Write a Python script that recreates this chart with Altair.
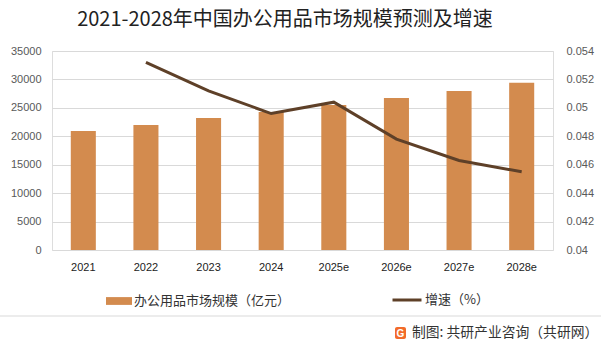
import altair as alt
import pandas as pd

years = ["2021", "2022", "2023", "2024", "2025e", "2026e", "2027e", "2028e"]
market_size = [20950, 21990, 23220, 24250, 25500, 26730, 27960, 29400]
growth_years = ["2022", "2023", "2024", "2025e", "2026e", "2027e", "2028e"]
growth_rate = [0.0532, 0.0512, 0.0496, 0.0504, 0.0478, 0.0463, 0.0455]
left_ticks = [0, 5000, 10000, 15000, 20000, 25000, 30000, 35000]
right_ticks = [0.04, 0.042, 0.044, 0.046, 0.048, 0.05, 0.052, 0.054]

bar_name = "办公用品市场规模（亿元）"
line_name = "增速（%）"
title_text = "2021-2028年中国办公用品市场规模预测及增速"
footer_text = "制图: 共研产业咨询（共研网）"

FONT = "Noto Sans CJK SC"
NUMFONT = "Liberation Sans"
BAR_COLOR = "#D38B4E"
LINE_COLOR = "#5E4028"

bars_df = pd.DataFrame({"year": years, "value": market_size, "series": bar_name})
line_df = pd.DataFrame({"year": growth_years, "rate": growth_rate, "series": line_name})
one = pd.DataFrame({"t": [title_text], "f": [footer_text]})

xscale = alt.Scale(domain=years, paddingInner=0.6, paddingOuter=0.3)

bars = alt.Chart(bars_df).mark_bar(color=BAR_COLOR).encode(
    x=alt.X("year:N", scale=xscale, sort=years,
            axis=alt.Axis(title=None, labelAngle=0, ticks=False, domain=False,
                          labelPadding=11, labelFont=NUMFONT, labelFontSize=11,
                          labelColor="#222222")),
    y=alt.Y("value:Q", scale=alt.Scale(domain=[0, 35000], nice=False, zero=True),
            axis=alt.Axis(title=None, values=left_ticks, format="d", ticks=False,
                          domain=False, labelPadding=11, labelFont=NUMFONT,
                          labelFontSize=11, labelColor="#595959",
                          gridColor="#D9D9D9", gridWidth=1)),
    fill=alt.Fill("series:N", scale=alt.Scale(domain=[bar_name], range=[BAR_COLOR]),
                  legend=alt.Legend(title=None, orient="none", legendX=54, legendY=237,
                                    symbolType="M-1,-0.3H1V0.3H-1Z", symbolSize=676,
                                    symbolStrokeWidth=0, labelFont=FONT,
                                    labelFontSize=13, labelColor="#333333",
                                    labelOffset=2)),
)

line = alt.Chart(line_df).mark_line(strokeWidth=3).encode(
    x=alt.X("year:N", scale=xscale, sort=years),
    y=alt.Y("rate:Q", scale=alt.Scale(domain=[0.04, 0.054], nice=False, zero=False),
            axis=alt.Axis(title=None, orient="right", values=right_ticks, format="~g",
                          ticks=False, domain=False, grid=False, labelPadding=13,
                          labelFont=NUMFONT, labelFontSize=11, labelColor="#595959")),
    stroke=alt.Stroke("series:N", scale=alt.Scale(domain=[line_name], range=[LINE_COLOR]),
                      legend=alt.Legend(title=None, orient="none", legendX=339, legendY=233,
                                        symbolType="stroke", symbolSize=841,
                                        symbolStrokeWidth=3, labelFont=FONT,
                                        labelFontSize=13, labelColor="#333333",
                                        labelOffset=2)),
)

title = alt.Chart(one).mark_text(font=FONT, fontSize=20, color="#222222",
                                 align="center", baseline="middle").encode(
    text="t:N", x=alt.value(233), y=alt.value(-31))

sep = alt.Chart(one).mark_rule(color="#D9D9D9", strokeWidth=1).encode(
    x=alt.value(-52), x2=alt.value(549), y=alt.value(265))

logo = alt.Chart(one).mark_rect(color="#F26B2A", cornerRadius=2).encode(
    x=alt.value(343), x2=alt.value(354), y=alt.value(276), y2=alt.value(288))
logo_g = alt.Chart(one).mark_text(text="G", font=NUMFONT, fontSize=10, fontWeight="bold",
                                  color="white", align="center", baseline="middle").encode(
    x=alt.value(348.5), y=alt.value(282.5))

footer = alt.Chart(one).mark_text(font=FONT, fontSize=13.8, color="#333333",
                                  align="left", baseline="middle").encode(
    text="f:N", x=alt.value(360), y=alt.value(282))

chart = alt.layer(bars, line, title, sep, logo, logo_g, footer).resolve_scale(
    y="independent", fill="independent", stroke="independent"
).properties(
    width=501, height=199,
    autosize=alt.AutoSizeParams(type="none"),
    padding={"left": 52, "top": 51, "right": 48, "bottom": 96},
).configure_view(stroke=None).configure(background="white")

chart.save("out.html", embed_options={"renderer": "svg", "actions": False})
